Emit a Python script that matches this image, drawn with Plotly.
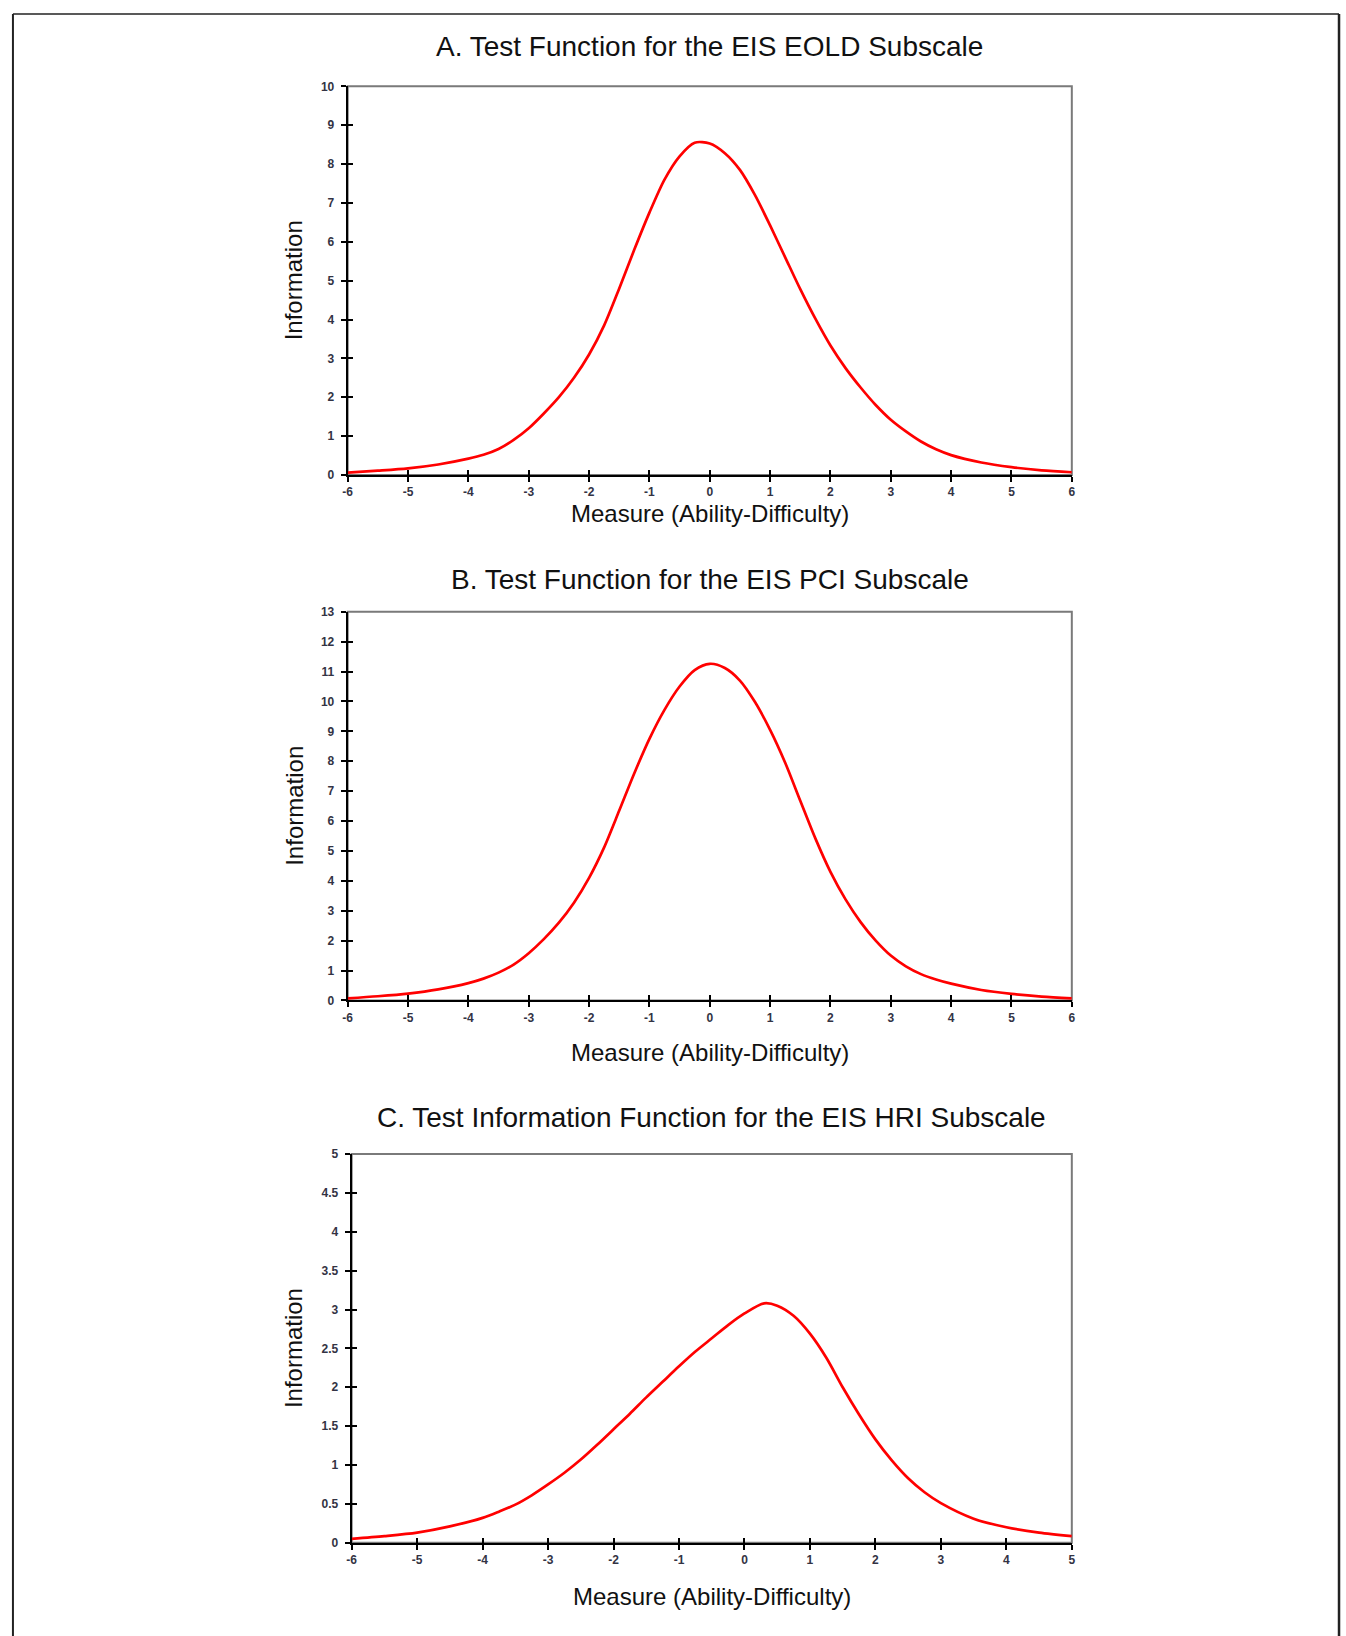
import plotly.graph_objects as go

# ---------------- data ----------------
x_a = [-6, -5.5, -5, -4.5, -4, -3.75, -3.5, -3.25, -3, -2.75, -2.5, -2.25, -2, -1.75, -1.5, -1.25, -1, -0.75,
       -0.5, -0.25, 0, 0.25, 0.5, 0.75, 1, 1.25, 1.5, 1.75, 2, 2.25, 2.5, 2.75, 3, 3.25, 3.5, 3.75, 4,
       4.5, 5, 5.5, 6]
y_a = [0.06, 0.11, 0.17, 0.27, 0.42, 0.52, 0.67, 0.9, 1.2, 1.58, 2.0, 2.5, 3.1, 3.85, 4.8, 5.8, 6.75, 7.6,
       8.2, 8.55, 8.53, 8.28, 7.85, 7.2, 6.42, 5.6, 4.78, 4.02, 3.33, 2.75, 2.25, 1.8, 1.42, 1.12, 0.86, 0.66, 0.51,
       0.32, 0.2, 0.12, 0.07]

x_b = [-6, -5.5, -5, -4.5, -4, -3.75, -3.5, -3.25, -3, -2.75, -2.5, -2.25, -2, -1.75, -1.5, -1.25, -1, -0.75,
       -0.5, -0.25, 0, 0.25, 0.5, 0.75, 1, 1.25, 1.5, 1.75, 2, 2.25, 2.5, 2.75, 3, 3.25, 3.5, 3.75, 4,
       4.5, 5, 5.5, 6]
y_b = [0.07, 0.14, 0.23, 0.37, 0.58, 0.73, 0.93, 1.2, 1.58, 2.05, 2.6, 3.27, 4.1, 5.12, 6.35, 7.6, 8.75, 9.72,
       10.5, 11.05, 11.26, 11.12, 10.7, 9.98, 9.05, 7.95, 6.68, 5.42, 4.3, 3.38, 2.62, 2.0, 1.5, 1.14, 0.88, 0.7, 0.56,
       0.35, 0.22, 0.13, 0.07]

x_c = [-6, -5.5, -5, -4.5, -4, -3.75, -3.5, -3.25, -3, -2.75, -2.5, -2.25, -2, -1.75, -1.5, -1.25, -1, -0.75,
       -0.5, -0.25, 0, 0.3, 0.5, 0.75, 1, 1.25, 1.5, 1.75, 2, 2.25, 2.5, 2.75, 3, 3.5, 4, 4.5, 5]
y_c = [0.05, 0.085, 0.13, 0.21, 0.32, 0.4, 0.49, 0.61, 0.75, 0.9, 1.07, 1.26, 1.46, 1.66, 1.87, 2.07, 2.27, 2.46,
       2.63, 2.8, 2.95, 3.08, 3.05, 2.92, 2.69, 2.38, 2.0, 1.65, 1.33, 1.06, 0.83, 0.65, 0.51, 0.31, 0.2, 0.13, 0.085]

titles = ["A. Test Function for the EIS EOLD Subscale",
          "B. Test Function for the EIS PCI Subscale",
          "C. Test Information Function for the EIS HRI Subscale"]
x_title = "Measure (Ability-Difficulty)"
y_title = "Information"

x_ticks_ab = [-6, -5, -4, -3, -2, -1, 0, 1, 2, 3, 4, 5, 6]
x_ticks_c = [-6, -5, -4, -3, -2, -1, 0, 1, 2, 3, 4, 5]
y_ticks_a = list(range(0, 11))
y_ticks_b = list(range(0, 14))
y_ticks_c = [0, 0.5, 1, 1.5, 2, 2.5, 3, 3.5, 4, 4.5, 5]
y_ticktext_c = ["0", "0.5", "1", "1.5", "2", "2.5", "3", "3.5", "4", "4.5", "5"]

# ---------------- layout geometry ----------------
W, H = 1346, 1636
panels = [
    dict(xs=x_a, ys=y_a, xr=[-6, 6], yr=[0, 10], xt=x_ticks_ab, yt=y_ticks_a, ytt=[str(v) for v in y_ticks_a],
         px=(345, 1074), py=(80, 472), tshift=40, xshift_t=39),
    dict(xs=x_b, ys=y_b, xr=[-6, 6], yr=[0, 13], xt=x_ticks_ab, yt=y_ticks_b, ytt=[str(v) for v in y_ticks_b],
         px=(345, 1074), py=(610, 1002), tshift=32, xshift_t=52),
    dict(xs=x_c, ys=y_c, xr=[-6, 5], yr=[0, 5], xt=x_ticks_c, yt=y_ticks_c, ytt=y_ticktext_c,
         px=(349, 1074), py=(1157, 1549), tshift=37, xshift_t=54),
]

FONT = "Arial, 'Liberation Sans', sans-serif"
tickfont = dict(family=FONT, size=12, color="#333344", weight="bold")

fig = go.Figure()
layout = dict(width=W, height=H, margin=dict(l=0, r=0, t=0, b=0),
              paper_bgcolor="white", plot_bgcolor="white", showlegend=False,
              annotations=[], shapes=[])

for i, p in enumerate(panels):
    n = i + 1
    m = n + 3
    xd = [p["px"][0] / W, p["px"][1] / W]
    yd = [1 - p["py"][1] / H, 1 - p["py"][0] / H]
    xs = "" if n == 1 else str(n)
    fig.add_trace(go.Scatter(x=p["xs"], y=p["ys"], mode="lines",
                             line=dict(color="#ff0000", width=2.7, shape="spline", smoothing=0.8),
                             xaxis="x" + xs, yaxis="y" + xs, hoverinfo="skip"))
    # dummy trace for the overlay axes (inside half of crossing ticks)
    fig.add_trace(go.Scatter(x=[None], y=[None], mode="lines", xaxis="x%d" % m, yaxis="y%d" % m,
                             hoverinfo="skip"))
    common_x = dict(range=p["xr"], tickvals=p["xt"], showgrid=False, zeroline=False,
                    tickcolor="black", tickwidth=1.5, ticklen=5, fixedrange=True)
    common_y = dict(range=p["yr"], tickvals=p["yt"], showgrid=False, zeroline=False,
                    tickcolor="black", tickwidth=1.5, ticklen=5, fixedrange=True)
    layout["xaxis" + xs] = dict(domain=xd, anchor="y" + xs, ticks="outside", showline=True,
                                linecolor="black", linewidth=2, tickfont=tickfont,
                                ticktext=[str(v) for v in p["xt"]], **common_x)
    layout["yaxis" + xs] = dict(domain=yd, anchor="x" + xs, ticks="outside", showline=True,
                                linecolor="black", linewidth=2, tickfont=tickfont,
                                ticktext=p["ytt"], ticklabelstandoff=4, **common_y)
    layout["xaxis%d" % m] = dict(overlaying="x" + xs, anchor="y%d" % m, ticks="inside",
                                 showline=False, showticklabels=False, **common_x)
    layout["yaxis%d" % m] = dict(overlaying="y" + xs, anchor="x%d" % m, ticks="inside",
                                 showline=False, showticklabels=False, **common_y)
    # gray frame (top/right)
    layout["shapes"].append(dict(type="rect", xref="x%s domain" % xs, yref="y%s domain" % xs,
                                 x0=0, x1=1, y0=0, y1=1, layer="below",
                                 line=dict(color="#7a7a7a", width=2)))
    # panel title
    layout["annotations"].append(dict(text=titles[i], xref="x%s domain" % xs, yref="y%s domain" % xs,
                                      x=0.5, y=1, yshift=p["tshift"], showarrow=False,
                                      xanchor="center", yanchor="middle",
                                      font=dict(family=FONT, size=28, color="#111111")))
    # x axis title
    layout["annotations"].append(dict(text=x_title, xref="x%s domain" % xs, yref="y%s domain" % xs,
                                      x=0.5, y=0, yshift=-p["xshift_t"], showarrow=False,
                                      xanchor="center", yanchor="middle",
                                      font=dict(family=FONT, size=24, color="#111111")))
    # y axis title
    layout["annotations"].append(dict(text=y_title, xref="x%s domain" % xs, yref="y%s domain" % xs,
                                      x=0, y=0.5, xshift=-(p["px"][0] - 291), showarrow=False,
                                      textangle=-90, xanchor="center", yanchor="middle",
                                      font=dict(family=FONT, size=24, color="#111111")))

# outer page border (left, top, right)
layout["shapes"].append(dict(type="line", xref="paper", yref="paper",
                             x0=8 / W, x1=8 / W, y0=-0.01, y1=1 - 7 / H,
                             line=dict(color="#222222", width=2)))
layout["shapes"].append(dict(type="line", xref="paper", yref="paper",
                             x0=8 / W, x1=1343 / W, y0=1 - 7 / H, y1=1 - 7 / H,
                             line=dict(color="#222222", width=1.5)))
layout["shapes"].append(dict(type="line", xref="paper", yref="paper",
                             x0=1343 / W, x1=1343 / W, y0=-0.01, y1=1 - 7 / H,
                             line=dict(color="#222222", width=2.5)))

fig.update_layout(**layout)
post = ("var s=document.createElement('style');"
        "s.innerHTML='html,body{margin:0!important;padding:0!important;overflow:hidden!important;"
        "width:1346px;height:1636px;}';"
        "document.head.appendChild(s);")
fig.write_html("out.html", config={"displayModeBar": False}, post_script=post)
